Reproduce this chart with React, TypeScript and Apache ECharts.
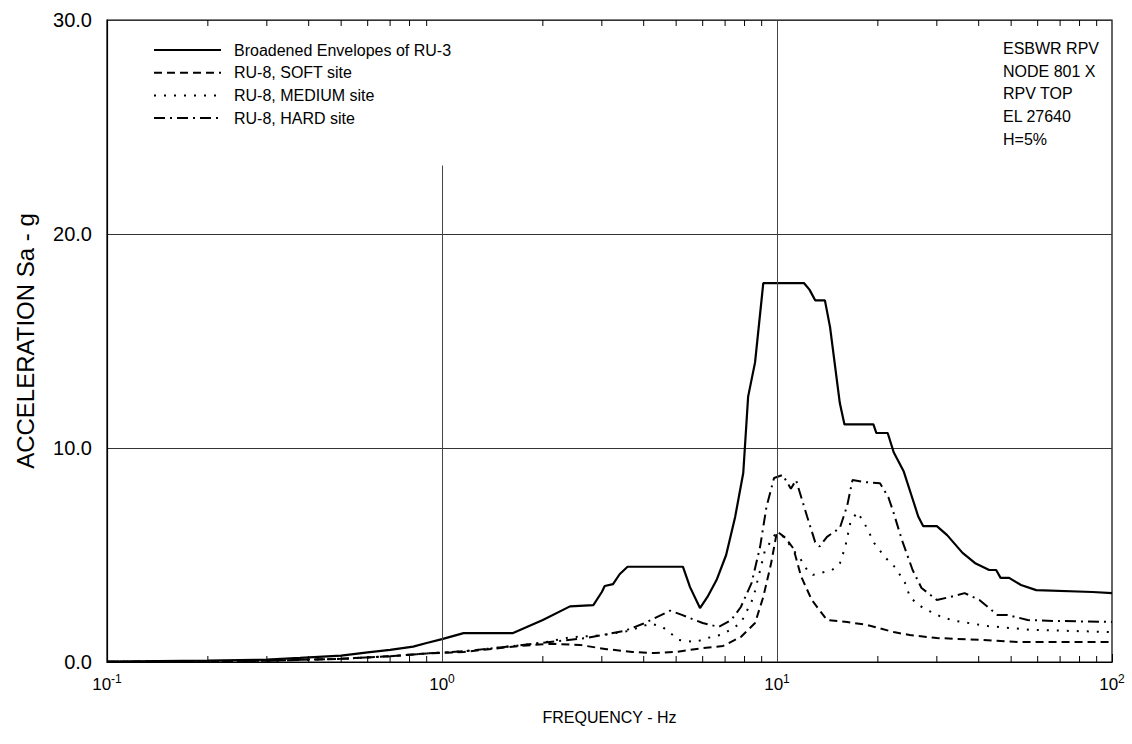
import React, { useEffect, useRef } from "react";
import * as echarts from "echarts";

const seriesNames = [
  "Broadened Envelopes of RU-3",
  "RU-8, SOFT site",
  "RU-8, MEDIUM site",
  "RU-8, HARD site",
];

const envFreq = [0.1, 0.2, 0.3, 0.377, 0.5, 0.6, 0.7, 0.82, 0.9, 1.0, 1.16, 1.63, 2.0, 2.41, 2.83, 3.0, 3.06, 3.24, 3.39, 3.58, 5.24, 5.5, 5.89, 6.2, 6.6, 7.05, 7.5, 7.93, 8.2, 8.6, 9.1, 12.05, 12.5, 13.0, 13.9, 14.4, 15.4, 15.9, 19.4, 19.8, 21.4, 22.3, 23.9, 25.3, 26.4, 27.3, 30.0, 32.2, 35.8, 39.2, 43.0, 45.1, 46.5, 49.3, 53.5, 59.4, 87.5, 100];
const envVal = [0.02, 0.06, 0.11, 0.19, 0.3, 0.45, 0.57, 0.72, 0.89, 1.07, 1.35, 1.35, 1.96, 2.6, 2.66, 3.27, 3.55, 3.64, 4.1, 4.45, 4.45, 3.5, 2.52, 3.04, 3.83, 5.0, 6.78, 8.83, 12.4, 14.0, 17.7, 17.7, 17.4, 16.9, 16.9, 15.65, 12.1, 11.1, 11.1, 10.7, 10.7, 9.8, 8.9, 7.7, 6.8, 6.35, 6.35, 5.93, 5.1, 4.6, 4.3, 4.3, 3.93, 3.93, 3.6, 3.36, 3.27, 3.22];

const softFreq = [0.1, 0.2, 0.3, 0.5, 0.7, 0.9, 1.16, 1.71, 2.1, 2.57, 3.1, 3.7, 4.3, 5.0, 6.0, 6.9, 7.8, 8.6, 9.1, 9.6, 10.0, 10.6, 11.2, 11.8, 12.7, 14.1, 16.2, 18.6, 22.3, 24.9, 30, 41, 53.5, 100];
const softVal = [0.01, 0.03, 0.06, 0.15, 0.27, 0.4, 0.47, 0.75, 0.85, 0.8, 0.6, 0.47, 0.42, 0.47, 0.65, 0.75, 1.17, 1.82, 3.04, 4.6, 6.1, 5.8, 5.3, 4.0, 2.9, 1.96, 1.87, 1.73, 1.4, 1.26, 1.12, 1.03, 0.93, 0.93];

const medFreq = [0.1, 0.2, 0.3, 0.5, 0.7, 0.9, 1.16, 1.71, 2.0, 2.4, 3.0, 3.6, 4.2, 4.55, 5.1, 5.7, 6.2, 6.9, 7.8, 8.5, 9.2, 9.9, 10.5, 11.1, 11.8, 12.3, 12.8, 14.6, 15.4, 16.0, 16.6, 17.4, 18.5, 19.5, 21, 22.6, 24.1, 25, 27.3, 31, 34, 42.6, 57.6, 100];
const medVal = [0.01, 0.03, 0.06, 0.15, 0.27, 0.4, 0.5, 0.78, 0.9, 1.15, 1.25, 1.45, 1.8, 1.64, 1.03, 0.93, 1.12, 1.3, 1.82, 3.0, 5.2, 6.0, 5.85, 5.3, 4.77, 4.3, 4.07, 4.3, 4.6, 5.4, 6.6, 7.0, 6.3, 5.56, 4.9, 4.4, 3.7, 3.0, 2.52, 2.1, 1.92, 1.68, 1.5, 1.4];

const hardFreq = [0.1, 0.2, 0.3, 0.5, 0.7, 0.9, 1.16, 1.71, 2.0, 2.7, 3.5, 4.0, 4.8, 5.2, 6.0, 6.7, 7.3, 7.8, 8.4, 8.9, 9.3, 9.8, 10.4, 11.0, 11.4, 12.3, 13.0, 13.4, 14.1, 15.4, 16.2, 16.8, 18.5, 20.3, 21.5, 22.3, 23.6, 25.4, 27, 30, 32.9, 36.3, 40.2, 45.5, 48.8, 56, 66.8, 100];
const hardVal = [0.01, 0.03, 0.06, 0.15, 0.27, 0.4, 0.5, 0.78, 0.9, 1.12, 1.45, 1.8, 2.4, 2.2, 1.82, 1.64, 1.96, 2.57, 3.7, 5.37, 7.24, 8.6, 8.74, 8.1, 8.5, 6.8, 5.6, 5.4, 5.85, 6.26, 7.3, 8.5, 8.4, 8.35, 7.7, 6.96, 5.7, 4.3, 3.46, 2.9, 3.04, 3.22, 2.9, 2.2, 2.2, 1.96, 1.92, 1.87];

const minorTickVals = [0.2, 0.3, 0.4, 0.5, 0.6, 0.7, 0.8, 0.9, 2, 3, 4, 5, 6, 7, 8, 9, 20, 30, 40, 50, 60, 70, 80, 90];

const infoLines = ["ESBWR RPV", "NODE 801 X", "RPV TOP", "EL 27640", "H=5%"];

const FONT = "'Liberation Sans', Arial, sans-serif";

function zip(f: number[], v: number[]) {
  return f.map((x, i) => [x, v[i]]);
}

export default function App() {
  const ref = useRef<HTMLDivElement>(null);
  useEffect(() => {
    if (!ref.current) return;
    const chart = echarts.init(ref.current, null, { renderer: "svg" });
    const lineBase = { type: "line", showSymbol: false, symbol: "none", smooth: false, z: 3 } as any;
    chart.setOption({
      animation: false,
      backgroundColor: "#fff",
      textStyle: { fontFamily: FONT, color: "#000" },
      grid: { left: 107, right: 20, top: 20, bottom: 82, show: true, borderColor: "#000", borderWidth: 1.2, backgroundColor: "transparent" },
      legend: {
        show: true,
        data: seriesNames,
        orient: "vertical",
        left: 148,
        top: 35,
        itemWidth: 67,
        itemHeight: 14,
        itemGap: 2.7,
        itemStyle: { opacity: 0 },
        textStyle: { fontSize: 16, lineHeight: 20, color: "#000", fontFamily: FONT, padding: [0, 0, 0, 8] },
        selectedMode: false,
      },
      xAxis: {
        type: "log",
        logBase: 10,
        min: 0.1,
        max: 100,
        name: "FREQUENCY - Hz",
        nameLocation: "middle",
        nameGap: 47,
        nameTextStyle: { fontSize: 16, color: "#000", fontFamily: FONT },
        axisLine: { show: true, lineStyle: { color: "#000", width: 1.2 } },
        axisTick: { show: true, inside: true, length: 8, lineStyle: { color: "#000" } },
        splitLine: { show: false },
        axisLabel: {
          margin: 11,
          formatter: (v: number) => {
            const e = Math.round(Math.log10(v));
            return `{b|10}{s|${e}}`;
          },
          rich: {
            b: { fontSize: 17, color: "#000", fontFamily: FONT },
            s: { fontSize: 12, color: "#000", fontFamily: FONT, padding: [0, 0, 10, 0] },
          },
        },
      },
      yAxis: {
        type: "value",
        min: 0,
        max: 30,
        interval: 10,
        name: "ACCELERATION Sa - g",
        nameLocation: "middle",
        nameGap: 70,
        nameTextStyle: { fontSize: 24, color: "#000", fontFamily: FONT },
        axisLine: { show: true, lineStyle: { color: "#000", width: 1.2 } },
        axisTick: { show: false },
        splitLine: { show: true, lineStyle: { color: "#333", width: 1 } },
        axisLabel: {
          margin: 15,
          fontSize: 20,
          color: "#000",
          fontFamily: FONT,
          formatter: (v: number) => v.toFixed(1),
        },
      },
      graphic: [
        {
          type: "text",
          left: 1003,
          top: 37,
          style: {
            text: infoLines.join("\n"),
            fontSize: 16,
            lineHeight: 22.75,
            fill: "#000",
            fontFamily: FONT,
          },
        },
      ],
      series: [
        {
          ...lineBase,
          name: seriesNames[0],
          data: zip(envFreq, envVal),
          lineStyle: { color: "#000", width: 2.2, type: "solid" },
          itemStyle: { color: "#000" },
          markLine: {
            silent: true,
            symbol: "none",
            label: { show: false },
            lineStyle: { color: "#444", width: 1, type: "solid" },
            data: [
              [{ coord: [1, 0] }, { coord: [1, 23.2] }],
              [{ coord: [10, 0] }, { coord: [10, 30] }],
            ],
          },
        },
        {
          ...lineBase,
          name: seriesNames[1],
          data: zip(softFreq, softVal),
          lineStyle: { color: "#000", width: 2, type: [8, 5] },
          itemStyle: { color: "#000" },
        },
        {
          ...lineBase,
          name: seriesNames[2],
          data: zip(medFreq, medVal),
          lineStyle: { color: "#000", width: 2, type: [2, 8] },
          itemStyle: { color: "#000" },
        },
        {
          ...lineBase,
          name: seriesNames[3],
          data: zip(hardFreq, hardVal),
          lineStyle: { color: "#000", width: 2, type: [11, 5, 2, 5] },
          itemStyle: { color: "#000" },
        },
        {
          type: "custom",
          name: "minorTicks",
          silent: true,
          z: 4,
          data: minorTickVals.map((v) => [v, 0]),
          renderItem: (params: any, api: any) => {
            const v = api.value(0);
            const p0 = api.coord([v, 0]);
            const p1 = api.coord([v, 30]);
            const st = { stroke: "#000", lineWidth: 1 };
            return {
              type: "group",
              children: [
                { type: "line", shape: { x1: p0[0], y1: p0[1], x2: p0[0], y2: p0[1] - 6 }, style: st },
                { type: "line", shape: { x1: p1[0], y1: p1[1], x2: p1[0], y2: p1[1] + 6 }, style: st },
              ],
            };
          },
        },
      ],
    });
    return () => chart.dispose();
  }, []);
  return <div ref={ref} style={{ width: 1132, height: 744, position: "absolute", left: 0, top: 0 }} />;
}
